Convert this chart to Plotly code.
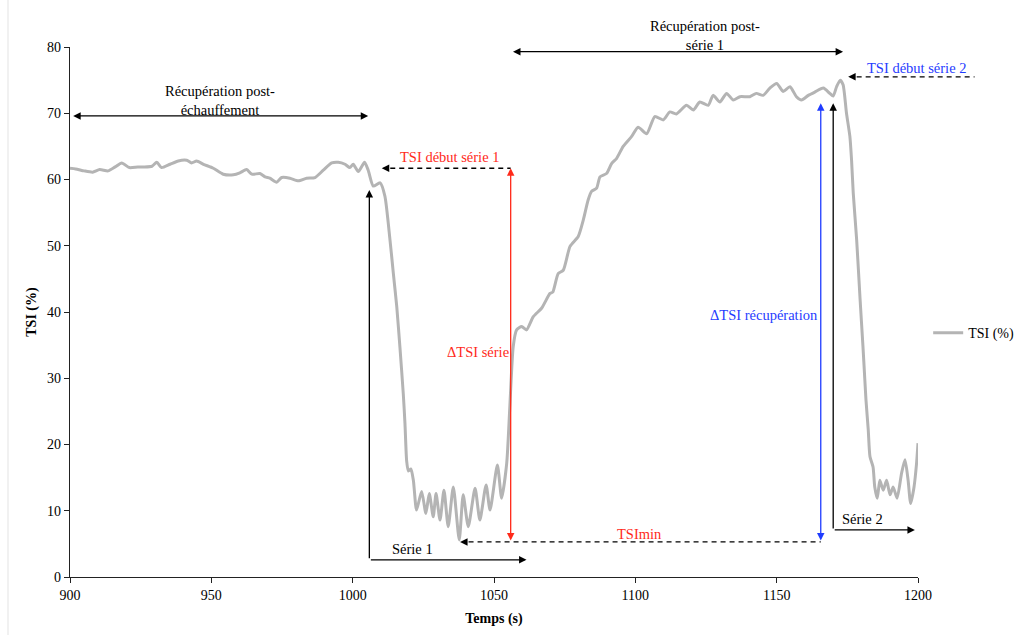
import plotly.graph_objects as go

# Tissue saturation index recording (time in s, TSI in %)
time_s = [
    900, 902, 905, 908, 910.5, 913.5, 916, 918.3, 921, 924, 926, 929, 930.7,
    932.4, 935.4, 938.3, 941.3, 943, 944.8, 947.2, 950.7, 954.2, 957.8, 960.1,
    962.5, 964.3, 967.2, 969, 970.7, 973.1, 974.9, 977.8, 980.8, 983.7, 986.7,
    989.6, 992.6, 994.9, 997.3, 999, 1000.2, 1002, 1004.2, 1005.5, 1007.3,
    1009.7, 1011.4, 1013.2, 1014.4, 1015.6, 1016.7, 1017.9, 1018.5, 1019.1,
    1019.7, 1020.6, 1021.5, 1022.6, 1024.4, 1025.9, 1027.1, 1028.5, 1029.5,
    1030.9, 1032.3, 1033.8, 1035.6, 1037.7, 1039.1, 1040.9, 1043.3, 1045,
    1047.2, 1048.6, 1051.2, 1052.7, 1054.5, 1055.6, 1056.8, 1058, 1059.8,
    1061.5, 1063.9, 1066.9, 1069.8, 1070.8, 1072.7, 1074.5, 1076.9, 1079.8,
    1081.6, 1083.3, 1084.5, 1086.3, 1087.5, 1089.8, 1091.6, 1093.4, 1095.7,
    1098.7, 1101, 1104, 1106.9, 1109.9, 1112.2, 1114.5, 1118.1, 1120.5, 1122.8,
    1125.8, 1127.5, 1129.9, 1132.3, 1134.6, 1137, 1140.5, 1142.8, 1145.2,
    1147.6, 1150, 1152.3, 1154.7, 1157, 1158.8, 1161.2, 1163.5, 1166.5, 1168.8,
    1170, 1171.2, 1172.5, 1173.5, 1174.7, 1175.9, 1176.5, 1177.1, 1178.3,
    1179.5, 1180.5, 1181.2, 1181.6, 1182.4, 1183, 1184.1, 1184.7, 1185.6,
    1186.5, 1187.7, 1188.9, 1190.1, 1191.2, 1192.6, 1194.2, 1195.4, 1196.5,
    1197.4, 1198.6, 1199.5, 1200,
]
tsi_pct = [
    61.7, 61.6, 61.3, 61.1, 61.5, 61.3, 61.9, 62.5, 61.8, 61.9, 61.9, 62.0, 62.6,
    61.8, 62.3, 62.8, 62.9, 62.5, 62.8, 62.3, 61.7, 60.8, 60.7, 61.0,
    61.5, 60.8, 60.9, 60.4, 60.2, 59.6, 60.3, 60.2, 59.8, 60.2, 60.3,
    61.4, 62.5, 62.6, 62.3, 61.8, 62.3, 61.2, 62.6, 61.4, 59.0,
    59.5, 57.5, 50.9, 45.8, 40.8, 34.8, 27.7, 23.2, 17.5,
    16.0, 16.3, 14.5, 10.1, 12.9, 9.6, 12.6, 9.1, 12.6,
    8.6, 13.1, 7.6, 13.6, 5.6, 12.4, 7.6, 13.4, 8.6,
    13.9, 10.1, 16.9, 11.9, 17.2, 25.7, 34.8, 37.3, 37.8,
    37.3, 39.3, 40.6, 42.8, 43.0, 45.8, 46.3, 49.9, 51.4,
    53.9, 56.9, 58.2, 58.7, 60.4, 60.9, 62.4, 63.2, 65.0,
    66.5, 67.9, 66.9, 69.5, 69.0, 70.2, 69.9, 71.2, 70.5, 71.7,
    71.2, 72.7, 71.7, 73.0, 72.0, 72.5, 72.5, 73.0, 72.7,
    73.8, 74.5, 73.3, 74.0, 72.5, 72.0, 72.7, 73.2, 73.8, 73.0,
    72.6, 74.0, 75.0, 74.3, 70.0, 66.5, 62.9, 57.9, 50.9,
    42.0, 35.0, 29.7, 26.7, 22.2, 18.2, 16.6, 13.6, 11.9,
    14.6, 13.1, 14.6, 12.4, 13.6, 11.9, 15.7, 17.7, 14.6,
    11.1, 13.6, 17.2, 20.2,
]

x_ticks = [900, 950, 1000, 1050, 1100, 1150, 1200]
y_ticks = [0, 10, 20, 30, 40, 50, 60, 70, 80]
X_RANGE = [900, 1200]
Y_RANGE = [0, 80]

SERIF = "Liberation Serif"
LABEL_SIZE = 14.5
RED = "#ff2a1a"
BLUE = "#1f3cff"

fig = go.Figure()
fig.add_trace(go.Scatter(
    x=time_s, y=tsi_pct, mode="lines", name="TSI (%)",
    line=dict(color="#b4b4b4", width=3, shape="spline", smoothing=0.6),
))

annotations = []
shapes = []


def arrow(x_tail, y_tail, x_head, y_head, color="black", both=False):
    annotations.append(dict(
        x=x_head, y=y_head, ax=x_tail, ay=y_tail,
        xref="x", yref="y", axref="x", ayref="y",
        text="", showarrow=True, arrowhead=2, arrowsize=1.15,
        arrowwidth=1.3, arrowcolor=color,
        arrowside="end+start" if both else "end",
        standoff=0, startstandoff=0,
    ))


def dashed_arrow(x_tail, x_head, y, paper_tail=False):
    # dashed shaft drawn as a shape, solid head drawn by a short annotation arrow
    step = 3 if x_tail > x_head else -3
    if paper_tail:
        shapes.append(dict(
            type="line", xref="paper", yref="paper",
            x0=(x_head + step - X_RANGE[0]) / (X_RANGE[1] - X_RANGE[0]),
            x1=(x_tail - X_RANGE[0]) / (X_RANGE[1] - X_RANGE[0]),
            y0=y / Y_RANGE[1], y1=y / Y_RANGE[1],
            line=dict(color="black", width=1.3, dash="5px,4px"),
        ))
    else:
        shapes.append(dict(
            type="line", xref="x", yref="y",
            x0=x_head + step, x1=x_tail, y0=y, y1=y,
            line=dict(color="black", width=1.3, dash="5px,4px"),
        ))
    arrow(x_head + step, y, x_head, y)


def label(x, y, text, color="black"):
    # labels above the y range are placed in paper units so they stay visible
    yref, yv = ("y", y) if y <= Y_RANGE[1] else ("paper", y / Y_RANGE[1])
    annotations.append(dict(
        x=x, y=yv, xref="x", yref=yref, text=text, showarrow=False,
        font=dict(family=SERIF, size=LABEL_SIZE, color=color),
        xanchor="center", yanchor="middle",
    ))


# Recovery periods
arrow(900.6, 69.6, 1005.5, 69.6, both=True)
label(953, 71.9, "Récupération post-<br>échauffement")
arrow(1056.2, 79.3, 1173.5, 79.3, both=True)
label(1124.6, 81.8, "Récupération post-<br>série 1")

# Series 1
arrow(1005.9, 2.6, 1005.9, 58.4)
arrow(1005.9, 2.6, 1061.5, 2.6)
label(1021.3, 4.2, "Série 1")
dashed_arrow(1055.9, 1010.3, 61.7)
label(1034.4, 63.4, "TSI début série 1", RED)
arrow(1055.9, 5.3, 1055.9, 61.7, RED, both=True)
label(1044.3, 34.0, "ΔTSI série", RED)

# Minimum and recovery amplitude
dashed_arrow(1165.6, 1038.0, 5.3)
label(1101.6, 6.5, "TSImin", RED)
arrow(1165.6, 5.3, 1165.6, 71.5, BLUE, both=True)
label(1145.5, 39.5, "ΔTSI récupération", BLUE)

# Series 2
arrow(1170.0, 7.1, 1170.0, 71.5)
arrow(1170.0, 7.1, 1198.9, 7.1)
label(1180.5, 8.75, "Série 2")
dashed_arrow(1220.0, 1175.3, 75.5, paper_tail=True)
label(1199.4, 76.8, "TSI début série 2", BLUE)

# faint outer frame edge on the left
shapes.append(dict(
    type="line", xref="paper", yref="paper",
    x0=-62 / 848, x1=-62 / 848, y0=-58 / 530, y1=577 / 530,
    line=dict(color="#e3e3e3", width=1),
))

axis_common = dict(
    showline=True, linecolor="#222222", linewidth=1.2,
    ticks="outside", ticklen=5, tickcolor="#222222", tickwidth=1,
    showgrid=False, zeroline=False,
    tickfont=dict(family=SERIF, size=14, color="black"),
)

fig.update_layout(
    width=1016, height=635,
    margin=dict(l=70, r=98, t=47, b=58, autoexpand=False),
    paper_bgcolor="white", plot_bgcolor="white",
    font=dict(family=SERIF, size=13, color="black"),
    xaxis=dict(range=X_RANGE, tickvals=x_ticks, **axis_common,
               title=dict(text="<b>Temps (s)</b>", standoff=11,
                          font=dict(family=SERIF, size=14, color="black"))),
    yaxis=dict(range=Y_RANGE, tickvals=y_ticks, **axis_common,
               title=dict(text="<b>TSI (%)</b>", standoff=7,
                          font=dict(family=SERIF, size=14, color="black"))),
    showlegend=True,
    legend=dict(x=1.012, y=0.46, xanchor="left", yanchor="middle",
                font=dict(family=SERIF, size=14, color="black"),
                bgcolor="rgba(0,0,0,0)", itemwidth=30),
    annotations=annotations,
    shapes=shapes,
)

fig.write_html("out.html")
